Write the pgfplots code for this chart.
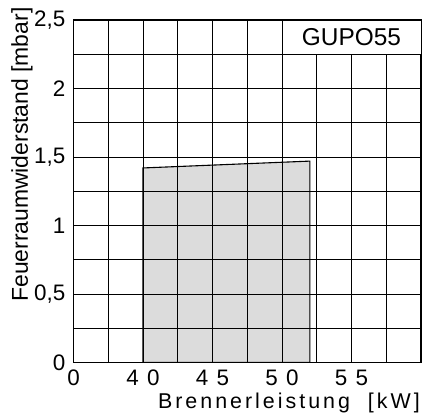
\documentclass[border=0pt]{standalone}
\usepackage{pgfplots}
\pgfplotsset{compat=1.18}
\usepackage{fontspec}
\setmainfont{Liberation Sans}
\newfontfamily\spaced[LetterSpace=14]{Liberation Sans}
\definecolor{fillgray}{RGB}{220,220,220}
\begin{document}
\begin{tikzpicture}[font=\fontsize{23}{27}\selectfont]
\useasboundingbox (-73.5bp,-51.5bp) rectangle (348.5bp,362.5bp);
\begin{axis}[
  at={(0,0)}, anchor=south west,
  width=347.5bp, height=342.5bp, scale only axis,
  xmin=35, xmax=60, ymin=0, ymax=2.5,
  xtick={35,40,45,50,55},
  xticklabels={0, 4\hspace{0.38em}0, 4\hspace{0.38em}5, 5\hspace{0.38em}0, 5\hspace{0.38em}5},
  minor xtick={37.5,42.5,47.5,52.5,57.5},
  ytick={0,0.5,1,1.5,2,2.5},
  minor ytick={0.25,0.75,1.25,1.75,2.25},
  grid=both,
  major grid style={black, line width=0.9bp},
  minor grid style={black, line width=0.9bp},
  major tick length=0pt, minor tick length=0pt,
  axis line style={black, line width=1.2bp},
  axis on top,
  /pgf/number format/use comma,
  /pgf/number format/assume math mode=true,
  tick label style={font=\fontsize{22.5}{27}\selectfont},
  xticklabel style={inner sep=0pt, yshift=-7.5bp},
  yticklabel style={inner sep=0pt, xshift=-8bp},
  xlabel={\spaced Brennerleistung\ \ [kW]},
  xlabel style={at={(axis description cs:0.62,-0.1335)}, anchor=base, inner sep=0pt, font=\fontsize{21.5}{25}\selectfont},
  ylabel={Feuerraumwiderstand [mbar]},
  ylabel style={at={(axis description cs:-0.148,0.607)}, anchor=center, font=\fontsize{23}{27}\selectfont},
]
\addplot[fill=fillgray, draw=black, line width=1.1bp] coordinates {(40,0) (40,1.42) (52,1.47) (52,0) (40,0)};
\coordinate (bl) at (axis cs:50,2.25);
\coordinate (tr) at (axis cs:60,2.5);
\coordinate (gc) at (axis cs:55,2.375);
\end{axis}
\draw[fill=white, line width=0.9bp] (bl) rectangle (tr);
\node[font=\fontsize{24.5}{28}\selectfont] at (gc) {GUPO55};
\end{tikzpicture}
\end{document}
